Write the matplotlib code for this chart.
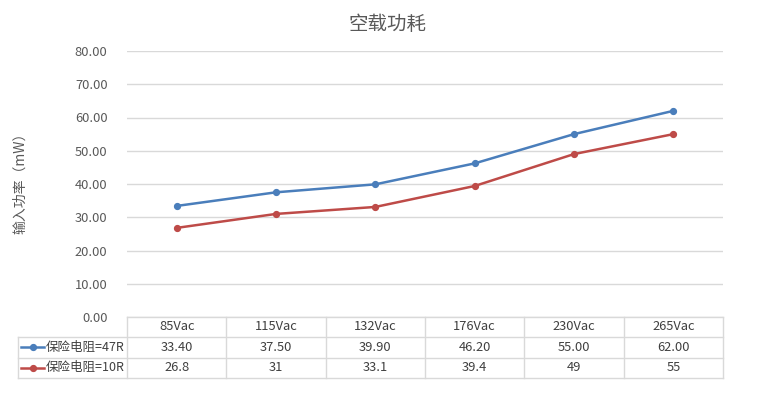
import numpy as np
import matplotlib.pyplot as plt
from matplotlib.lines import Line2D

plt.rcParams['font.family'] = ['Noto Sans CJK SC', 'DejaVu Sans']

# ---
# data
# ---
categories = ['85Vac', '115Vac', '132Vac', '176Vac', '230Vac', '265Vac']
series_names = ['保险电阻=47R', '保险电阻=10R']
vals_47r = [33.40, 37.50, 39.90, 46.20, 55.00, 62.00]
vals_10r = [26.8, 31, 33.1, 39.4, 49, 55]
labels_47r = ['33.40', '37.50', '39.90', '46.20', '55.00', '62.00']
labels_10r = ['26.8', '31', '33.1', '39.4', '49', '55']
yticks = [0, 10, 20, 30, 40, 50, 60, 70, 80]

title = '空载功耗'
ylabel = '输入功率（mW）'

colors = ['#4a7ebb', '#be4b48']
txt_c = '#595959'
grid_c = '#d9d9d9'

W, H = 777, 393
fig = plt.figure(figsize=(W / 100, H / 100), dpi=100)

# plot area in pixels
x0, x1 = 127, 723
y_top, y_bot = 51, 317
ax = fig.add_axes([x0 / W, 1 - y_bot / H, (x1 - x0) / W, (y_bot - y_top) / H])

n = len(categories)
xs = np.arange(n)
ax.set_xlim(-0.5, n - 0.5)
ax.set_ylim(0, 80)

for vals, c in zip([vals_47r, vals_10r], colors):
    ax.plot(xs, vals, color=c, lw=1.8, marker='o', ms=4.2, zorder=3)

ax.set_yticks(yticks)
ax.set_yticklabels([f'{v:.2f}' for v in yticks], color=txt_c, fontsize=9.3)
ax.tick_params(axis='y', length=0, pad=14)
ax.set_xticks([])
ax.grid(axis='y', color=grid_c, lw=1)
ax.set_axisbelow(True)
for s in ax.spines.values():
    s.set_visible(False)

fig.text(388 / W, 1 - 25 / H, title, ha='center', va='center', fontsize=14, color=txt_c)
fig.text(20 / W, 1 - 180 / H, ylabel, ha='center', va='center', rotation=90, fontsize=10, color=txt_c)

# ---
# data table under plot
# ---
def fy(py):
    return 1 - py / H

def fx(px):
    return px / W

row_y = [317, 337, 357.5, 378]
left_x = 18
col_w = (x1 - x0) / n
kw = dict(color=grid_c, lw=1, transform=fig.transFigure)

# horizontal lines
fig.add_artist(Line2D([fx(x0), fx(x1)], [fy(row_y[0])] * 2, **kw))
for py in row_y[1:]:
    fig.add_artist(Line2D([fx(left_x), fx(x1)], [fy(py)] * 2, **kw))
# vertical lines
fig.add_artist(Line2D([fx(left_x)] * 2, [fy(row_y[1]), fy(row_y[3])], **kw))
for i in range(n + 1):
    px = x0 + i * col_w
    fig.add_artist(Line2D([fx(px)] * 2, [fy(row_y[0]), fy(row_y[3])], **kw))

rows = [categories, labels_47r, labels_10r]
for r, row in enumerate(rows):
    cy = (row_y[r] + row_y[r + 1]) / 2
    for i, t in enumerate(row):
        cx = x0 + (i + 0.5) * col_w
        fig.text(fx(cx), fy(cy), t, ha='center', va='center', fontsize=9.3, color='#404040')

# legend keys in row headers
for r, (name, c) in enumerate(zip(series_names, colors)):
    cy = (row_y[r + 1] + row_y[r + 2]) / 2
    fig.add_artist(Line2D([fx(21), fx(44)], [fy(cy)] * 2, color=c, lw=1.8,
                          transform=fig.transFigure))
    fig.add_artist(Line2D([fx(32.5)], [fy(cy)], color=c, marker='o', ms=4.2,
                          lw=0, transform=fig.transFigure))
    fig.text(fx(46), fy(cy), name, ha='left', va='center', fontsize=9, color='#404040')

fig.savefig('out.png', dpi=100)
